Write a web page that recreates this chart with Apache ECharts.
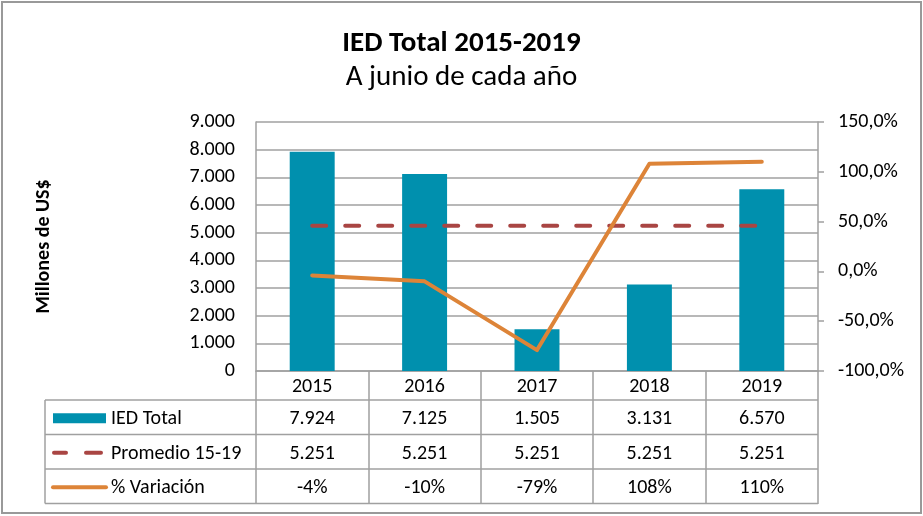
<!DOCTYPE html>
<html>
<head>
<meta charset="utf-8">
<script src="https://cdn.jsdelivr.net/npm/echarts@6/dist/echarts.min.js"></script>
<style>html,body{margin:0;padding:0;background:#fff}#c{width:923px;height:516px}</style>
</head>
<body>
<div id="c"></div>
<script>
const years = ['2015', '2016', '2017', '2018', '2019'];
const iedTotal = [7924, 7125, 1505, 3131, 6570];
const promedio = [5251, 5251, 5251, 5251, 5251];
const variacion = [-4, -10, -79, 108, 110];
const seriesNames = ['IED Total', 'Promedio 15-19', '% Variación'];

const FONT = 'Carlito, Lato, sans-serif';
const FS = 20;
const GRAY = '#a0a0a0';
const BAR = '#0090ae';
const RED = '#a94543';
const ORANGE = '#dd8438';

const G = { left: 256, right: 105, top: 122, bottom: 145 };
const W = 923, H = 516;

function fmtThousands(v) {
  return String(v).replace(/\B(?=(\d{3})+(?!\d))/g, '.');
}

const chart = echarts.init(document.getElementById('c'), null, { renderer: 'canvas' });

chart.setOption({
  animation: false,
  textStyle: { fontFamily: FONT },
  title: [
    { text: 'IED Total 2015-2019', left: 'center', top: 24,
      textStyle: { fontFamily: FONT, fontSize: 29, fontWeight: 'bold', color: '#000' } },
    { text: 'A junio de cada año', left: 'center', top: 58,
      textStyle: { fontFamily: FONT, fontSize: 29, fontWeight: 'normal', color: '#000' } }
  ],
  grid: { left: G.left, right: G.right, top: G.top, bottom: G.bottom, containLabel: false },
  xAxis: {
    type: 'category', data: years,
    axisLine: { show: true, lineStyle: { color: GRAY, width: 1.5 } },
    axisTick: { show: true, length: 133, lineStyle: { color: GRAY, width: 1.5 } },
    axisLabel: { fontFamily: FONT, fontSize: FS, color: '#000', margin: 6 }
  },
  yAxis: [
    { type: 'value', min: 0, max: 9000, interval: 1000,
      name: 'Millones de US$', nameLocation: 'middle', nameGap: 202, nameRotate: 90,
      nameTextStyle: { fontFamily: FONT, fontSize: FS, fontWeight: 'bold', color: '#000' },
      axisLine: { show: true, lineStyle: { color: GRAY, width: 1.5 } },
      axisTick: { show: false },
      splitLine: { show: true, lineStyle: { color: GRAY, width: 1.5 } },
      axisLabel: { fontFamily: FONT, fontSize: FS, color: '#000', margin: 21, formatter: v => fmtThousands(v) } },
    { type: 'value', min: -100, max: 150, interval: 50, position: 'right',
      axisLine: { show: true, lineStyle: { color: GRAY, width: 1.5 } },
      axisTick: { show: true, length: 6, lineStyle: { color: GRAY, width: 1.5 } },
      splitLine: { show: false },
      axisLabel: { fontFamily: FONT, fontSize: FS, color: '#000', margin: 20,
        formatter: v => v.toFixed(1).replace('.', ',') + '%' } }
  ],
  series: [
    { name: seriesNames[0], type: 'bar', data: iedTotal, barWidth: '40%',
      itemStyle: { color: BAR }, z: 2 },
    { name: seriesNames[1], type: 'line', data: promedio, symbol: 'none',
      lineStyle: { color: RED, width: 4, type: [14, 19], cap: 'round' }, z: 3 },
    { name: seriesNames[2], type: 'line', data: variacion, yAxisIndex: 1, symbol: 'none',
      lineStyle: { color: ORANGE, width: 4, cap: 'round', join: 'round' }, z: 4 }
  ]
});

// Build the data table beneath the plot from the axis geometry
const axisY = H - G.bottom;
const rowH = 34.5;
const headerH = 29;
const tableLeft = 45;
const tableRight = W - G.right;
const rowTop = [axisY + headerH, axisY + headerH + rowH, axisY + headerH + 2 * rowH];
const tableBottom = axisY + headerH + 3 * rowH;

const rows = [
  iedTotal.map(fmtThousands),
  promedio.map(fmtThousands),
  variacion.map(v => v + '%')
];

const g = [];
// outer frame
g.push({ type: 'rect', shape: { x: 2, y: 2, width: W - 4, height: H - 5 },
  style: { fill: null, stroke: '#999', lineWidth: 2 }, silent: true });
// horizontal table lines
[rowTop[0], rowTop[1], rowTop[2], tableBottom].forEach(y => {
  g.push({ type: 'line', shape: { x1: tableLeft, y1: y, x2: tableRight, y2: y },
    style: { stroke: GRAY, lineWidth: 1.5 }, silent: true });
});
// left border
g.push({ type: 'line', shape: { x1: tableLeft, y1: rowTop[0], x2: tableLeft, y2: tableBottom },
  style: { stroke: GRAY, lineWidth: 1.5 }, silent: true });

// cell texts
rows.forEach((r, ri) => {
  const cy = rowTop[ri] + rowH / 2 + 2;
  r.forEach((t, ci) => {
    const cx = chart.convertToPixel({ xAxisIndex: 0 }, years[ci]);
    g.push({ type: 'text', x: cx, y: cy,
      style: { text: t, fill: '#000', font: FS + 'px ' + FONT, align: 'center', verticalAlign: 'middle' }, silent: true });
  });
  g.push({ type: 'text', x: 111, y: cy,
    style: { text: seriesNames[ri], fill: '#000', font: FS + 'px ' + FONT, align: 'left', verticalAlign: 'middle' }, silent: true });
});
// legend keys
const ly = rowTop.map(t => t + rowH / 2 + 1);
g.push({ type: 'rect', shape: { x: 53, y: ly[0] - 5, width: 53, height: 10 }, style: { fill: BAR }, silent: true });
g.push({ type: 'line', shape: { x1: 54, y1: ly[1], x2: 66, y2: ly[1] },
  style: { stroke: RED, lineWidth: 4, lineCap: 'round' }, silent: true });
g.push({ type: 'line', shape: { x1: 86, y1: ly[1], x2: 101, y2: ly[1] },
  style: { stroke: RED, lineWidth: 4, lineCap: 'round' }, silent: true });
g.push({ type: 'line', shape: { x1: 53, y1: ly[2], x2: 106, y2: ly[2] },
  style: { stroke: ORANGE, lineWidth: 4, lineCap: 'round' }, silent: true });

chart.setOption({ graphic: g });
</script>
</body>
</html>
